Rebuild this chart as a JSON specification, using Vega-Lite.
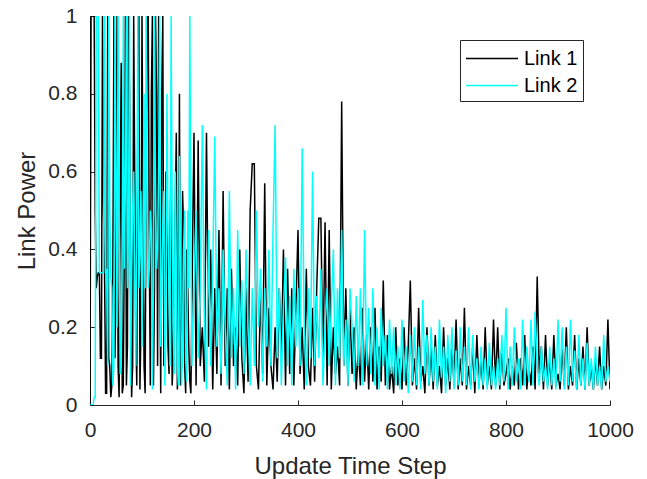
{
"$schema": "https://vega.github.io/schema/vega-lite/v6.json",
"width": 520, "height": 389,
"autosize": {"type": "none"},
"padding": {"left": 90, "top": 16, "right": 37, "bottom": 74},
"background": "white",
"config": {"view": {"stroke": null}, "font": "Liberation Sans"},
"data": {"values": [
{"t":0,"Link 1":0,"Link 2":0},{"t":4,"Link 1":1,"Link 2":0},{"t":8,"Link 1":1,"Link 2":0.02},{"t":12,"Link 1":0.3,"Link 2":1},{"t":16,"Link 1":0.34,"Link 2":1},{"t":20,"Link 1":0.12,"Link 2":0.34},{"t":24,"Link 1":1,"Link 2":0.34},{"t":28,"Link 1":0.34,"Link 2":1},{"t":32,"Link 1":0.03,"Link 2":0.35},{"t":36,"Link 1":0.12,"Link 2":1},{"t":40,"Link 1":0.02,"Link 2":0.33},{"t":44,"Link 1":0.35,"Link 2":0.05},{"t":48,"Link 1":0.12,"Link 2":1},{"t":52,"Link 1":1,"Link 2":0.2},{"t":56,"Link 1":0.02,"Link 2":0.5},{"t":60,"Link 1":0.88,"Link 2":0.1},{"t":64,"Link 1":0.05,"Link 2":1},{"t":68,"Link 1":1,"Link 2":0.55},{"t":72,"Link 1":0.15,"Link 2":0.3},{"t":76,"Link 1":0.8,"Link 2":1},{"t":80,"Link 1":0.02,"Link 2":0.35},{"t":84,"Link 1":1,"Link 2":0.6},{"t":88,"Link 1":0.2,"Link 2":0.1},{"t":92,"Link 1":0.75,"Link 2":1},{"t":96,"Link 1":0.04,"Link 2":0.4},{"t":100,"Link 1":1,"Link 2":0.15},{"t":104,"Link 1":0.1,"Link 2":0.8},{"t":108,"Link 1":0.6,"Link 2":1},{"t":112,"Link 1":1,"Link 2":0.3},{"t":116,"Link 1":0.05,"Link 2":0.5},{"t":120,"Link 1":1,"Link 2":0.04},{"t":124,"Link 1":0.3,"Link 2":1},{"t":128,"Link 1":0.8,"Link 2":0.35},{"t":132,"Link 1":1,"Link 2":0.6},{"t":136,"Link 1":0.03,"Link 2":0.15},{"t":140,"Link 1":1,"Link 2":0.45},{"t":144,"Link 1":0.2,"Link 2":0.05},{"t":148,"Link 1":0.55,"Link 2":0.8},{"t":152,"Link 1":0.08,"Link 2":0.3},{"t":156,"Link 1":0.7,"Link 2":1},{"t":160,"Link 1":0.12,"Link 2":0.2},{"t":164,"Link 1":0.5,"Link 2":0.6},{"t":168,"Link 1":0.04,"Link 2":0.1},{"t":172,"Link 1":0.8,"Link 2":0.64},{"t":176,"Link 1":0.1,"Link 2":0.05},{"t":180,"Link 1":0.45,"Link 2":0.4},{"t":184,"Link 1":0.03,"Link 2":0.12},{"t":188,"Link 1":0.3,"Link 2":0.5},{"t":192,"Link 1":0.06,"Link 2":1},{"t":196,"Link 1":0.25,"Link 2":0.1},{"t":200,"Link 1":0.7,"Link 2":0.3},
{"t":2,"Link 1":1,"Link 2":0},{"t":6,"Link 1":1,"Link 2":0},{"t":10,"Link 1":0.5,"Link 2":0.02},{"t":14,"Link 1":0.33,"Link 2":1},{"t":18,"Link 1":0.34,"Link 2":0.34},{"t":22,"Link 1":0.12,"Link 2":0.34},{"t":26,"Link 1":0.5,"Link 2":0.34},{"t":30,"Link 1":0.03,"Link 2":0.34},{"t":34,"Link 1":1,"Link 2":0.1},{"t":38,"Link 1":0.1,"Link 2":0.5},{"t":42,"Link 1":0.05,"Link 2":0.3},{"t":46,"Link 1":1,"Link 2":0.1},{"t":50,"Link 1":0.3,"Link 2":0.6},{"t":54,"Link 1":0.1,"Link 2":1},{"t":58,"Link 1":0.5,"Link 2":0.08},{"t":62,"Link 1":0.03,"Link 2":0.45},{"t":66,"Link 1":0.4,"Link 2":0.35},{"t":70,"Link 1":0.05,"Link 2":1},{"t":74,"Link 1":1,"Link 2":0.45},{"t":78,"Link 1":0.3,"Link 2":0.05},{"t":82,"Link 1":0.1,"Link 2":0.5},{"t":86,"Link 1":0.6,"Link 2":0.35},{"t":90,"Link 1":0.05,"Link 2":0.45},{"t":94,"Link 1":1,"Link 2":0.3},{"t":98,"Link 1":0.2,"Link 2":0.55},{"t":102,"Link 1":0.5,"Link 2":0.4},{"t":106,"Link 1":0.03,"Link 2":0.3},{"t":110,"Link 1":1,"Link 2":0.5},{"t":114,"Link 1":0.4,"Link 2":0.35},{"t":118,"Link 1":0.8,"Link 2":0.45},{"t":122,"Link 1":0.05,"Link 2":0.3},{"t":126,"Link 1":1,"Link 2":0.5},{"t":130,"Link 1":0.1,"Link 2":0.4},{"t":134,"Link 1":0.45,"Link 2":1},{"t":138,"Link 1":0.8,"Link 2":0.3},{"t":142,"Link 1":0.1,"Link 2":0.55},{"t":146,"Link 1":0.6,"Link 2":0.2},{"t":150,"Link 1":0.15,"Link 2":0.45},{"t":154,"Link 1":0.4,"Link 2":0.1},{"t":158,"Link 1":0.05,"Link 2":0.5},{"t":162,"Link 1":0.3,"Link 2":0.08},{"t":166,"Link 1":0.7,"Link 2":0.35},{"t":170,"Link 1":0.2,"Link 2":0.05},{"t":174,"Link 1":0.05,"Link 2":0.4},{"t":178,"Link 1":0.55,"Link 2":0.15},{"t":182,"Link 1":0.1,"Link 2":0.5},{"t":186,"Link 1":0.4,"Link 2":0.06},{"t":190,"Link 1":0.15,"Link 2":0.3},{"t":194,"Link 1":0.03,"Link 2":0.45},{"t":198,"Link 1":0.5,"Link 2":0.2},
{"t":204,"Link 1":0.05,"Link 2":0.5},{"t":208,"Link 1":0.68,"Link 2":0.12},{"t":212,"Link 1":0.1,"Link 2":0.3},{"t":216,"Link 1":0.2,"Link 2":0.72},{"t":220,"Link 1":0.06,"Link 2":0.2},{"t":224,"Link 1":0.7,"Link 2":0.04},{"t":228,"Link 1":0.15,"Link 2":0.45},{"t":232,"Link 1":0.4,"Link 2":0.1},{"t":236,"Link 1":0.04,"Link 2":0.35},{"t":240,"Link 1":0.3,"Link 2":0.69},{"t":244,"Link 1":0.08,"Link 2":0.15},{"t":248,"Link 1":0.45,"Link 2":0.3},{"t":252,"Link 1":0.05,"Link 2":0.08},{"t":256,"Link 1":0.55,"Link 2":0.4},{"t":260,"Link 1":0.1,"Link 2":0.2},{"t":264,"Link 1":0.3,"Link 2":0.05},{"t":268,"Link 1":0.04,"Link 2":0.55},{"t":272,"Link 1":0.35,"Link 2":0.12},{"t":276,"Link 1":0.1,"Link 2":0.3},{"t":280,"Link 1":0.2,"Link 2":0.04},{"t":284,"Link 1":0.05,"Link 2":0.45},{"t":288,"Link 1":0.4,"Link 2":0.15},{"t":292,"Link 1":0.12,"Link 2":0.32},{"t":296,"Link 1":0.03,"Link 2":0.08},{"t":300,"Link 1":0.3,"Link 2":0.4},{"t":304,"Link 1":0.06,"Link 2":0.2},{"t":308,"Link 1":0.5,"Link 2":0.05},{"t":312,"Link 1":0.62,"Link 2":0.3},{"t":316,"Link 1":0.62,"Link 2":0.1},{"t":320,"Link 1":0.1,"Link 2":0.5},{"t":324,"Link 1":0.04,"Link 2":0.2},{"t":328,"Link 1":0.3,"Link 2":0.35},{"t":332,"Link 1":0.08,"Link 2":0.06},{"t":336,"Link 1":0.57,"Link 2":0.3},{"t":340,"Link 1":0.05,"Link 2":0.15},{"t":344,"Link 1":0.25,"Link 2":0.4},{"t":348,"Link 1":0.1,"Link 2":0.1},{"t":352,"Link 1":0.04,"Link 2":0.45},{"t":356,"Link 1":0.2,"Link 2":0.72},{"t":360,"Link 1":0.06,"Link 2":0.12},{"t":364,"Link 1":0.3,"Link 2":0.3},{"t":368,"Link 1":0.12,"Link 2":0.05},{"t":372,"Link 1":0.4,"Link 2":0.25},{"t":376,"Link 1":0.05,"Link 2":0.38},{"t":380,"Link 1":0.35,"Link 2":0.1},{"t":384,"Link 1":0.08,"Link 2":0.28},{"t":388,"Link 1":0.3,"Link 2":0.05},{"t":392,"Link 1":0.05,"Link 2":0.35},{"t":396,"Link 1":0.25,"Link 2":0.15},{"t":400,"Link 1":0.45,"Link 2":0.3},
{"t":404,"Link 1":0.08,"Link 2":0.1},{"t":408,"Link 1":0.2,"Link 2":0.66},{"t":412,"Link 1":0.04,"Link 2":0.2},{"t":416,"Link 1":0.35,"Link 2":0.05},{"t":420,"Link 1":0.1,"Link 2":0.3},{"t":424,"Link 1":0.05,"Link 2":0.12},{"t":428,"Link 1":0.25,"Link 2":0.6},{"t":432,"Link 1":0.06,"Link 2":0.1},{"t":436,"Link 1":0.3,"Link 2":0.28},{"t":440,"Link 1":0.48,"Link 2":0.12},{"t":444,"Link 1":0.48,"Link 2":0.35},{"t":448,"Link 1":0.1,"Link 2":0.05},{"t":452,"Link 1":0.47,"Link 2":0.2},{"t":456,"Link 1":0.05,"Link 2":0.3},{"t":460,"Link 1":0.45,"Link 2":0.1},{"t":464,"Link 1":0.04,"Link 2":0.25},{"t":468,"Link 1":0.2,"Link 2":0.4},{"t":472,"Link 1":0.08,"Link 2":0.05},{"t":476,"Link 1":0.15,"Link 2":0.3},{"t":480,"Link 1":0.05,"Link 2":0.12},{"t":484,"Link 1":0.78,"Link 2":0.45},{"t":488,"Link 1":0.1,"Link 2":0.1},{"t":492,"Link 1":0.3,"Link 2":0.22},{"t":496,"Link 1":0.05,"Link 2":0.05},{"t":500,"Link 1":0.25,"Link 2":0.3},
{"t":504,"Link 1":0.08,"Link 2":0.2},{"t":508,"Link 1":0.2,"Link 2":0.06},{"t":512,"Link 1":0.04,"Link 2":0.28},{"t":516,"Link 1":0.15,"Link 2":0.1},{"t":520,"Link 1":0.05,"Link 2":0.3},{"t":524,"Link 1":0.25,"Link 2":0.05},{"t":528,"Link 1":0.06,"Link 2":0.45},{"t":532,"Link 1":0.18,"Link 2":0.1},{"t":536,"Link 1":0.04,"Link 2":0.25},{"t":540,"Link 1":0.2,"Link 2":0.08},{"t":544,"Link 1":0.06,"Link 2":0.3},{"t":548,"Link 1":0.25,"Link 2":0.05},{"t":552,"Link 1":0.04,"Link 2":0.2},{"t":556,"Link 1":0.15,"Link 2":0.04},{"t":560,"Link 1":0.06,"Link 2":0.25},{"t":564,"Link 1":0.32,"Link 2":0.1},{"t":568,"Link 1":0.05,"Link 2":0.18},{"t":572,"Link 1":0.18,"Link 2":0.04},{"t":576,"Link 1":0.04,"Link 2":0.22},{"t":580,"Link 1":0.1,"Link 2":0.08},{"t":584,"Link 1":0.03,"Link 2":0.2},{"t":588,"Link 1":0.2,"Link 2":0.05},{"t":592,"Link 1":0.05,"Link 2":0.15},{"t":596,"Link 1":0.12,"Link 2":0.04},{"t":600,"Link 1":0.04,"Link 2":0.22},
{"t":604,"Link 1":0.2,"Link 2":0.06},{"t":608,"Link 1":0.05,"Link 2":0.15},{"t":612,"Link 1":0.15,"Link 2":0.03},{"t":616,"Link 1":0.32,"Link 2":0.18},{"t":620,"Link 1":0.05,"Link 2":0.06},{"t":624,"Link 1":0.12,"Link 2":0.2},{"t":628,"Link 1":0.04,"Link 2":0.05},{"t":632,"Link 1":0.25,"Link 2":0.15},{"t":636,"Link 1":0.06,"Link 2":0.04},{"t":640,"Link 1":0.1,"Link 2":0.27},{"t":644,"Link 1":0.03,"Link 2":0.08},{"t":648,"Link 1":0.2,"Link 2":0.18},{"t":652,"Link 1":0.05,"Link 2":0.05},{"t":656,"Link 1":0.15,"Link 2":0.2},{"t":660,"Link 1":0.04,"Link 2":0.06},{"t":664,"Link 1":0.18,"Link 2":0.15},{"t":668,"Link 1":0.05,"Link 2":0.04},{"t":672,"Link 1":0.1,"Link 2":0.22},{"t":676,"Link 1":0.03,"Link 2":0.07},{"t":680,"Link 1":0.2,"Link 2":0.15},{"t":684,"Link 1":0.05,"Link 2":0.03},{"t":688,"Link 1":0.12,"Link 2":0.18},{"t":692,"Link 1":0.04,"Link 2":0.06},{"t":696,"Link 1":0.16,"Link 2":0.2},{"t":700,"Link 1":0.05,"Link 2":0.04},
{"t":704,"Link 1":0.22,"Link 2":0.14},{"t":708,"Link 1":0.04,"Link 2":0.05},{"t":712,"Link 1":0.12,"Link 2":0.2},{"t":716,"Link 1":0.05,"Link 2":0.06},{"t":720,"Link 1":0.25,"Link 2":0.15},{"t":724,"Link 1":0.04,"Link 2":0.05},{"t":728,"Link 1":0.1,"Link 2":0.2},{"t":732,"Link 1":0.05,"Link 2":0.04},{"t":736,"Link 1":0.15,"Link 2":0.18},{"t":740,"Link 1":0.03,"Link 2":0.06},{"t":744,"Link 1":0.18,"Link 2":0.12},{"t":748,"Link 1":0.05,"Link 2":0.04},{"t":752,"Link 1":0.12,"Link 2":0.15},{"t":756,"Link 1":0.04,"Link 2":0.05},{"t":760,"Link 1":0.2,"Link 2":0.12},{"t":764,"Link 1":0.05,"Link 2":0.04},{"t":768,"Link 1":0.1,"Link 2":0.16},{"t":772,"Link 1":0.04,"Link 2":0.05},{"t":776,"Link 1":0.22,"Link 2":0.1},{"t":780,"Link 1":0.05,"Link 2":0.04},{"t":784,"Link 1":0.2,"Link 2":0.12},{"t":788,"Link 1":0.04,"Link 2":0.05},{"t":792,"Link 1":0.15,"Link 2":0.18},{"t":796,"Link 1":0.05,"Link 2":0.06},{"t":800,"Link 1":0.08,"Link 2":0.25},
{"t":804,"Link 1":0.12,"Link 2":0.04},{"t":808,"Link 1":0.04,"Link 2":0.15},{"t":812,"Link 1":0.1,"Link 2":0.05},{"t":816,"Link 1":0.05,"Link 2":0.2},{"t":820,"Link 1":0.16,"Link 2":0.06},{"t":824,"Link 1":0.04,"Link 2":0.12},{"t":828,"Link 1":0.12,"Link 2":0.04},{"t":832,"Link 1":0.05,"Link 2":0.22},{"t":836,"Link 1":0.18,"Link 2":0.05},{"t":840,"Link 1":0.04,"Link 2":0.15},{"t":844,"Link 1":0.1,"Link 2":0.06},{"t":848,"Link 1":0.05,"Link 2":0.22},{"t":852,"Link 1":0.15,"Link 2":0.05},{"t":856,"Link 1":0.04,"Link 2":0.24},{"t":860,"Link 1":0.33,"Link 2":0.1},{"t":864,"Link 1":0.08,"Link 2":0.05},{"t":868,"Link 1":0.15,"Link 2":0.15},{"t":872,"Link 1":0.04,"Link 2":0.06},{"t":876,"Link 1":0.18,"Link 2":0.1},{"t":880,"Link 1":0.05,"Link 2":0.04},{"t":884,"Link 1":0.12,"Link 2":0.15},{"t":888,"Link 1":0.04,"Link 2":0.05},{"t":892,"Link 1":0.18,"Link 2":0.12},{"t":896,"Link 1":0.05,"Link 2":0.04},{"t":900,"Link 1":0.08,"Link 2":0.22},
{"t":904,"Link 1":0.04,"Link 2":0.06},{"t":908,"Link 1":0.15,"Link 2":0.2},{"t":912,"Link 1":0.05,"Link 2":0.04},{"t":916,"Link 1":0.2,"Link 2":0.15},{"t":920,"Link 1":0.04,"Link 2":0.05},{"t":924,"Link 1":0.1,"Link 2":0.22},{"t":928,"Link 1":0.05,"Link 2":0.06},{"t":932,"Link 1":0.18,"Link 2":0.14},{"t":936,"Link 1":0.04,"Link 2":0.04},{"t":940,"Link 1":0.12,"Link 2":0.18},{"t":944,"Link 1":0.05,"Link 2":0.05},{"t":948,"Link 1":0.15,"Link 2":0.12},{"t":952,"Link 1":0.04,"Link 2":0.04},{"t":956,"Link 1":0.2,"Link 2":0.16},{"t":960,"Link 1":0.05,"Link 2":0.05},{"t":964,"Link 1":0.1,"Link 2":0.12},{"t":968,"Link 1":0.04,"Link 2":0.04},{"t":972,"Link 1":0.12,"Link 2":0.15},{"t":976,"Link 1":0.05,"Link 2":0.05},{"t":980,"Link 1":0.15,"Link 2":0.1},{"t":984,"Link 1":0.04,"Link 2":0.04},{"t":988,"Link 1":0.1,"Link 2":0.18},{"t":992,"Link 1":0.05,"Link 2":0.06},{"t":996,"Link 1":0.22,"Link 2":0.1},{"t":1000,"Link 1":0.04,"Link 2":0.06}
]},
"transform": [{"fold": ["Link 1", "Link 2"], "as": ["link", "p"]}],
"mark": {"type": "line", "strokeWidth": 1.5, "clip": true},
"encoding": {
  "x": {"field": "t", "type": "quantitative", "sort": "ascending",
        "scale": {"domain": [0, 1000], "nice": false},
        "axis": {"title": "Update Time Step", "values": [0,200,400,600,800,1000], "format": "d", "grid": false, "labelFlush": false,
                 "domainColor": "#262626", "tickColor": "#262626", "tickSize": -5, "labelPadding": 19,
                 "labelFontSize": 21, "labelColor": "#262626", "labelFont": "Liberation Sans",
                 "titleFontSize": 24, "titleFontWeight": "normal", "titleColor": "#262626", "titleFont": "Liberation Sans", "titlePadding": 14}},
  "y": {"field": "p", "type": "quantitative",
        "scale": {"domain": [0, 1], "nice": false},
        "axis": {"title": "Link Power", "values": [0,0.2,0.4,0.6,0.8,1], "format": "~f", "grid": false, "labelFlush": false,
                 "domainColor": "#262626", "tickColor": "#262626", "tickSize": -5, "labelPadding": 18,
                 "labelFontSize": 21, "labelColor": "#262626", "labelFont": "Liberation Sans",
                 "titleFontSize": 24, "titleFontWeight": "normal", "titleColor": "#262626", "titleFont": "Liberation Sans", "titlePadding": 8}},
  "color": {"field": "link", "type": "nominal",
            "scale": {"domain": ["Link 1", "Link 2"], "range": ["#000000", "#00FFFF"]},
            "legend": {"title": null, "orient": "none", "legendX": 370, "legendY": 24,
                       "symbolType": "M-1,0H3.16", "symbolSize": 625, "symbolStrokeWidth": 1.5,
                       "labelOffset": 32, "labelFontSize": 20, "labelColor": "#000000", "labelFont": "Liberation Sans",
                       "strokeColor": "#262626", "fillColor": "white", "padding": 5, "rowPadding": 3}}
}
}
